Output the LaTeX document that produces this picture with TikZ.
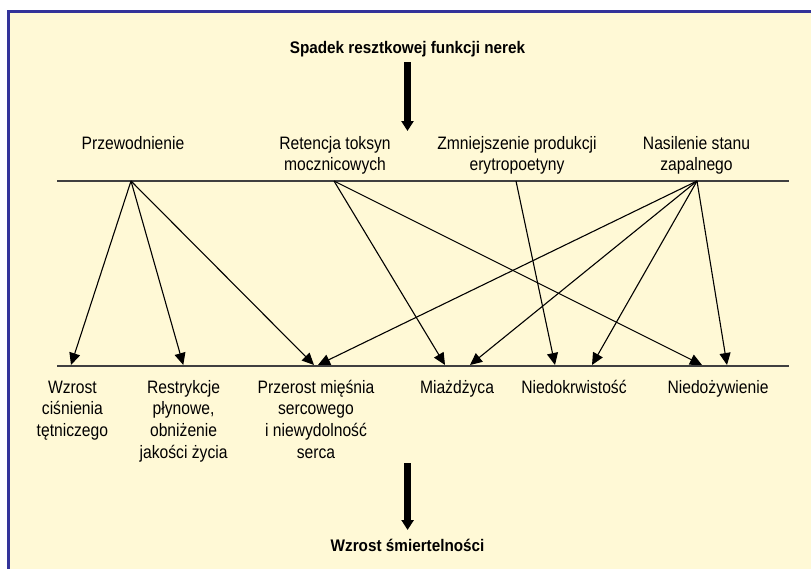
\documentclass[tikz,border=0pt]{standalone}
\usepackage{fontspec}
\usetikzlibrary{arrows.meta}
\newfontfamily\regfont[FakeStretch=0.87]{Liberation Sans}
\newfontfamily\boldfont[FakeStretch=0.91]{Liberation Sans}
\definecolor{bg}{HTML}{FFF9D6}
\definecolor{framec}{HTML}{333399}
\definecolor{rulec}{HTML}{404040}
\begin{document}
\begin{tikzpicture}[x=1pt,y=-1pt,
  lbl/.style={font=\regfont\fontsize{18}{21.6}\selectfont, align=center, inner sep=0pt, anchor=base},
  ttl/.style={font=\boldfont\bfseries\fontsize{16.8}{20}\selectfont, inner sep=0pt, anchor=base},
  conn/.style={line width=1.1pt, -{Triangle[length=12pt,width=11pt]}},
  bigarrow/.style={line width=6.3pt, -{Triangle[length=10pt,width=12pt]}},
  rulel/.style={draw=rulec, line width=2pt}]
\useasboundingbox (0,0) rectangle (811,568);
\clip (0,0) rectangle (811,568);
\fill[white] (0,0) rectangle (811,568);
\filldraw[fill=bg, draw=framec, line width=3pt] (8.5,11.8) rectangle (840,600);

% titles
\node[ttl] (title) at (407.5,53.3) {Spadek resztkowej funkcji nerek};
\node[ttl] (result) at (407.6,551) {Wzrost śmiertelności};
\coordinate (b1s) at (407.5,62);
\coordinate (b1e) at (407.5,131);
\coordinate (b2s) at (407.6,463);
\coordinate (b2e) at (407.6,530);
\draw[bigarrow] (b1s) -- (b1e);
\draw[bigarrow] (b2s) -- (b2e);

% top labels (anchor = baseline of last line)
\node[lbl] (przew) at (133,149) {Przewodnienie};
\node[lbl] (ret) at (335,170.6) {Retencja toksyn\\mocznicowych};
\node[lbl] (zmn) at (517,170.6) {Zmniejszenie produkcji\\erytropoetyny};
\node[lbl] (nas) at (696.5,170.6) {Nasilenie stanu\\zapalnego};

% bottom labels
\node[lbl] (wzr) at (72.4,436.5) {Wzrost\\ciśnienia\\tętniczego};
\node[lbl] (restr) at (183.6,458.1) {Restrykcje\\płynowe,\\obniżenie\\jakości życia};
\node[lbl] (przer) at (316,458.1) {Przerost mięśnia\\sercowego\\i niewydolność\\serca};
\node[lbl] (miaz) at (457,393.3) {Miażdżyca};
\node[lbl] (niedk) at (574,393.3) {Niedokrwistość};
\node[lbl] (niedz) at (718,393.3) {Niedożywienie};

% horizontal rules
\coordinate (tl) at (57,181);
\coordinate (tr) at (789,181);
\coordinate (bl) at (57,365.5);
\coordinate (br) at (789,365.5);
\draw[rulel] (tl) -- (tr);
\draw[rulel] (bl) -- (br);

% arrow sources
\coordinate (sP) at (131,181);
\coordinate (sR) at (334,181);
\coordinate (sZ) at (516,181);
\coordinate (sN) at (697,181);
% arrow targets
\coordinate (tW) at (71,365);
\coordinate (tRe) at (183.3,365);
\coordinate (tP1) at (314,365);
\coordinate (tP2) at (318,365);
\coordinate (tM1) at (445,365);
\coordinate (tM2) at (470,365);
\coordinate (tN1) at (555,365);
\coordinate (tN2) at (592,365);
\coordinate (tD1) at (702,365);
\coordinate (tD2) at (727,365);

\draw[conn] (sP) -- (tW);
\draw[conn] (sP) -- (tRe);
\draw[conn] (sP) -- (tP1);
\draw[conn] (sR) -- (tM1);
\draw[conn] (sR) -- (tD1);
\draw[conn] (sZ) -- (tN1);
\draw[conn] (sN) -- (tP2);
\draw[conn] (sN) -- (tM2);
\draw[conn] (sN) -- (tN2);
\draw[conn] (sN) -- (tD2);
\end{tikzpicture}
\end{document}
